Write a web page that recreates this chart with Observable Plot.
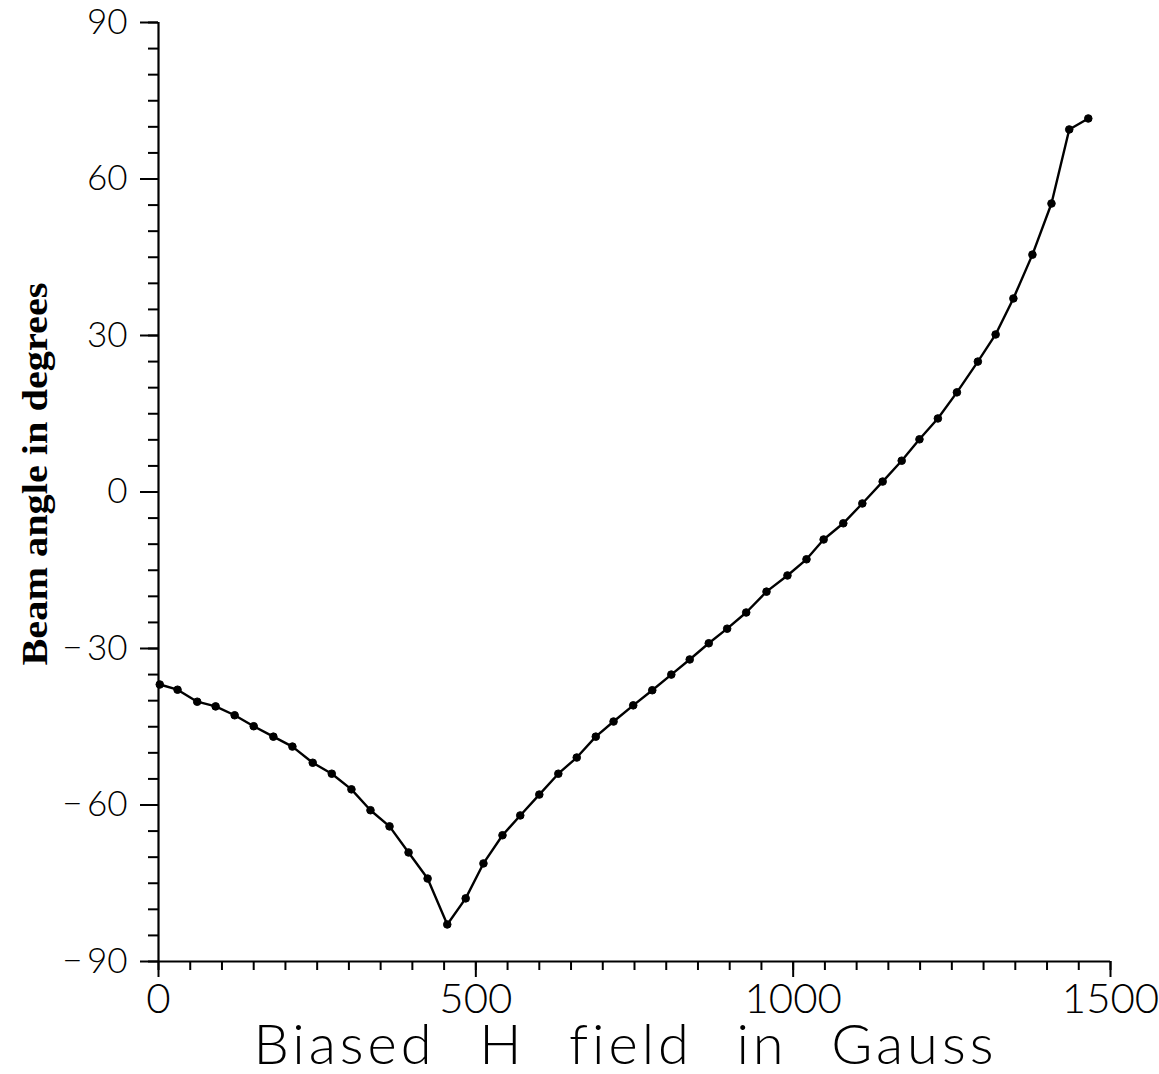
<!DOCTYPE html>
<html>
<head>
<meta charset="utf-8">
<script src="https://cdn.jsdelivr.net/npm/d3@7"></script>
<script src="https://cdn.jsdelivr.net/npm/@observablehq/plot@0.6"></script>
<style>
  html, body { margin: 0; padding: 0; background: #fff; }
  svg { display: block; }
</style>
</head>
<body>
<div id="chart"></div>
<script>
// Biased H field (Gauss)
const field = [2, 30, 61, 90, 120, 150, 181, 211, 243, 273, 304, 334, 364, 394, 424, 455,
  484, 512, 542, 570, 600, 630, 659, 689, 717, 748, 778, 808, 837, 867, 896, 926,
  958, 991, 1021, 1048, 1079, 1109, 1141, 1171, 1199, 1228, 1258, 1291, 1319, 1347,
  1377, 1407, 1435, 1465];
// Beam angle (degrees)
const angle = [-36.9, -37.9, -40.2, -41.1, -42.8, -44.9, -46.9, -48.8, -51.9, -54.0,
  -57.0, -61.0, -64.1, -69.1, -74.1, -82.9, -77.9, -71.2, -65.8, -62.0, -58.0, -54.0,
  -50.9, -46.9, -44.0, -40.9, -38.0, -35.0, -32.1, -29.0, -26.2, -23.1, -19.1, -16.0,
  -12.9, -9.1, -6.0, -2.2, 2.0, 6.0, 10.1, 14.1, 19.1, 25.0, 30.2, 37.1, 45.5, 55.3,
  69.5, 71.6];

const xMajor = [0, 500, 1000, 1500];
const xMinor = d3.range(0, 1501, 50);
const yMajor = [-90, -60, -30, 0, 30, 60, 90];
const yMinor = d3.range(-90, 91, 5);

const xTitle = "Biased H field in Gauss";
const yTitle = "Beam angle in degrees";

const data = field.map((x, i) => ({x, y: angle[i]}));

const tickFont = "Lato, 'DejaVu Sans', sans-serif";
const fmtY = d => d < 0 ? "\u2212\u2009" + (-d) : String(d);

const chart = Plot.plot({
  width: 1159,
  height: 1074,
  marginLeft: 158,
  marginRight: 49,
  marginTop: 22,
  marginBottom: 113,
  x: {domain: [0, 1500]},
  y: {domain: [-90, 90]},
  style: {background: "#fff", color: "#000"},
  marks: [
    Plot.axisY(yMinor, {tickSize: 10, strokeWidth: 2, tickFormat: () => "", label: null}),
    Plot.axisY(yMajor, {tickSize: 18, tickPadding: 13, strokeWidth: 2, tickFormat: fmtY,
      fontSize: 35, fontFamily: tickFont, fontWeight: 300, label: null}),
    Plot.axisX(xMinor, {tickSize: 9, strokeWidth: 2, tickFormat: () => "", label: null}),
    Plot.axisX(xMajor, {tickSize: 16, tickPadding: 6, strokeWidth: 2, tickFormat: d => String(d),
      fontSize: 42, fontFamily: tickFont, fontWeight: 300, label: null}),
    Plot.ruleX([0], {y1: -90, y2: 90, stroke: "#000", strokeWidth: 2.2}),
    Plot.ruleY([-90], {x1: 0, x2: 1500, stroke: "#000", strokeWidth: 2.2}),
    Plot.line(data, {x: "x", y: "y", stroke: "#000", strokeWidth: 2.4}),
    Plot.dot(data, {x: "x", y: "y", r: 3.8, fill: "#000", stroke: "#000", strokeWidth: 1}),
    Plot.text([xTitle], {frameAnchor: "bottom", dx: -9, dy: 102,
      lineAnchor: "bottom", fontSize: 56, fontFamily: tickFont, fontWeight: 300,
      fill: "#000", className: "xtitle"}),
    Plot.text([yTitle], {frameAnchor: "left",
      rotate: -90, lineAnchor: "bottom", fontSize: 36, fontWeight: "bold",
      fontFamily: "'Liberation Serif', 'Times New Roman', serif", fill: "#000", className: "ytitle"})
  ]
});

document.getElementById("chart").appendChild(chart);
const svg = d3.select(chart);
// drop the empty labels of the minor-tick axes
svg.selectAll("text").filter(function() { return this.textContent === ""; }).remove();

// x title: letter and word spacing to match the reference width
const xt = svg.select(".xtitle text").node();
if (xt) {
  xt.style.letterSpacing = "4px";
  const len = xt.getComputedTextLength();
  const extra = (744 - len) / 4;
  xt.style.wordSpacing = extra + "px";
}
// y title: rotated label left of the tick labels, reading upward from y=665
svg.select(".ytitle text")
  .attr("transform", "translate(46,665) rotate(-90)")
  .attr("text-anchor", "start")
  .attr("dx", null).attr("dy", null)
  .attr("textLength", 383).attr("lengthAdjust", "spacingAndGlyphs");
svg.select(".ytitle").attr("text-anchor", "start");
</script>
</body>
</html>
